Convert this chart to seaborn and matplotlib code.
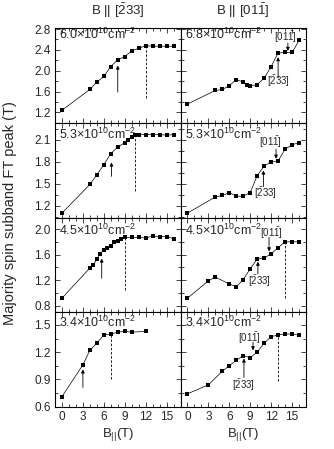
import matplotlib
matplotlib.use("Agg")
import matplotlib.pyplot as plt
from matplotlib.ticker import MultipleLocator
import seaborn as sns
import pandas as pd

# ---------------- data ----------------
dens_labels = [r"6.0$\times$10$^{10}$cm$^{-2}$", r"5.3$\times$10$^{10}$cm$^{-2}$",
               r"4.5$\times$10$^{10}$cm$^{-2}$", r"3.4$\times$10$^{10}$cm$^{-2}$"]
dens_labels_right = [r"6.8$\times$10$^{10}$cm$^{-2}$", r"5.3$\times$10$^{10}$cm$^{-2}$",
                     r"4.5$\times$10$^{10}$cm$^{-2}$", r"3.4$\times$10$^{10}$cm$^{-2}$"]

l1_x = [0, 4, 5, 6, 7, 8, 9, 10, 11, 12, 13, 14, 15, 16]
l1_y = [1.24, 1.64, 1.78, 1.89, 2.08, 2.21, 2.27, 2.38, 2.43, 2.48, 2.47, 2.47, 2.47, 2.47]
r1_x = [0, 4, 5, 6, 7, 8, 8.5, 9, 10, 11, 12, 13, 14, 15, 16]
r1_y = [1.36, 1.62, 1.64, 1.71, 1.83, 1.78, 1.72, 1.71, 1.73, 1.86, 2.08, 2.34, 2.35, 2.35, 2.58]

l2_x = [0, 4, 5, 6, 7, 8, 9, 9.5, 10, 10.5, 11, 12, 13, 14, 15, 16]
l2_y = [1.10, 1.49, 1.62, 1.76, 1.91, 2.00, 2.06, 2.10, 2.14, 2.16, 2.17, 2.17, 2.17, 2.17, 2.16, 2.17]
r2_x = [0, 4, 5, 6, 7, 8, 9, 10, 11, 12, 13, 14, 15, 16]
r2_y = [1.10, 1.32, 1.34, 1.38, 1.33, 1.33, 1.38, 1.61, 1.74, 1.80, 1.81, 1.97, 2.03, 2.06]

l3_x = [0, 4, 4.5, 5, 5.5, 6, 6.5, 7, 7.5, 8, 8.5, 9, 10, 11, 12, 13, 14, 15, 16]
l3_y = [0.92, 1.39, 1.44, 1.53, 1.61, 1.68, 1.71, 1.74, 1.79, 1.82, 1.85, 1.87, 1.87, 1.87,
        1.86, 1.89, 1.88, 1.88, 1.85]
r3_x = [0, 3, 4, 6, 7, 8, 9, 10, 11, 12, 13, 14, 15, 16]
r3_y = [0.92, 1.19, 1.25, 1.14, 1.10, 1.21, 1.38, 1.53, 1.55, 1.61, 1.71, 1.80, 1.80, 1.80]

l4_x = [0, 3, 4, 5, 6, 7, 8, 9, 10, 12]
l4_y = [0.71, 1.06, 1.22, 1.30, 1.39, 1.40, 1.42, 1.43, 1.42, 1.43]
r4_x = [0, 3, 5, 6, 7, 8, 9, 10, 11, 12, 13, 14, 15, 16]
r4_y = [0.74, 0.84, 0.99, 1.05, 1.11, 1.16, 1.14, 1.20, 1.30, 1.37, 1.39, 1.40, 1.40, 1.39]

row_ylims = [(1.0, 2.82), (1.04, 2.33), (0.70, 2.18), (0.595, 1.64)]
row_yticks = [[1.2, 1.6, 2.0, 2.4, 2.8], [1.2, 1.5, 1.8, 2.1],
              [0.8, 1.2, 1.6, 2.0], [0.6, 0.9, 1.2, 1.5]]
row_yminor = [0.2, 0.15, 0.2, 0.15]
xticks = [0, 3, 6, 9, 12, 15]

# arrows (x, tail y, tip y) for plain arrows in left panels
left_arrows = [(8, 1.59, 2.10), (7.1, 1.60, 1.79), (5.7, 1.23, 1.54), (3, 0.81, 1.01)]
# dashed verticals (x, y0, y1): left then right
left_dash = [(12, 1.48, 2.48), (10.5, 1.40, 2.16), (9, 1.04, 1.87), (7, 0.90, 1.40)]
right_dash = [None, None, (14, 0.93, 1.80), (13, 0.88, 1.39)]
# right-panel labelled arrows: (label, label x, label y, arrow x, tail y, tip y)
lab233 = r"[$\bar{2}$33]"
lab011 = r"[01$\bar{1}$]"
right_ann = [
    [(lab233, 13.1, 1.80, 13.0, 1.86, 2.26), (lab011, 14.1, 2.65, 14.4, 2.53, 2.38)],
    [(lab233, 11.2, 1.37, 10.9, 1.46, 1.68), (lab011, 11.9, 2.07, 12.7, 1.97, 1.84)],
    [(lab233, 10.4, 1.19, 10.1, 1.30, 1.49), (lab011, 12.0, 1.93, 11.7, 1.87, 1.65)],
    [(lab233, 8.0, 0.84, 8.1, 0.92, 1.13), (lab011, 8.9, 1.36, 9.4, 1.31, 1.22)],
]
dens_y = [0.885, 0.83, 0.82, 0.84]

# ---------------- style ----------------
sns.set_style("ticks")
plt.rcParams["font.family"] = ["Liberation Sans", "DejaVu Sans"]
plt.rcParams["mathtext.fontset"] = "custom"
plt.rcParams["mathtext.rm"] = "Liberation Sans"
plt.rcParams["mathtext.it"] = "Liberation Sans:italic"
plt.rcParams["mathtext.bf"] = "Liberation Sans:bold"
plt.rcParams["axes.linewidth"] = 0.8

fig, axes = plt.subplots(4, 2, figsize=(3.34, 4.49), dpi=100)
fig.subplots_adjust(left=55/334, right=306/334, top=1-28/449, bottom=1-407/449,
                    hspace=0, wspace=0)

left_data = [(l1_x, l1_y), (l2_x, l2_y), (l3_x, l3_y), (l4_x, l4_y)]
right_data = [(r1_x, r1_y), (r2_x, r2_y), (r3_x, r3_y), (r4_x, r4_y)]

def style_ax(ax, r, show_ylabels, show_xlabels):
    ax.set_xlim(-1, 17)
    ax.set_ylim(*row_ylims[r])
    ax.set_xticks(xticks)
    ax.set_yticks(row_yticks[r])
    ax.xaxis.set_minor_locator(MultipleLocator(1))
    ax.yaxis.set_minor_locator(MultipleLocator(row_yminor[r]))
    ax.tick_params(which="both", direction="in", top=True, right=True,
                   bottom=True, left=True, width=0.6, labelsize=8.5, pad=3)
    ax.tick_params(which="major", length=3.5)
    ax.tick_params(which="minor", length=2)
    if not show_ylabels:
        ax.set_yticklabels([])
    else:
        ax.set_yticklabels([f"{v:.1f}" for v in row_yticks[r]])
    if not show_xlabels:
        ax.set_xticklabels([])
    for s in ax.spines.values():
        s.set_color("black")
    ax.set_xlabel("")
    ax.set_ylabel("")

arrow_kw = dict(arrowstyle="-|>", color="black", lw=0.6, mutation_scale=5,
                shrinkA=0, shrinkB=0)

for r in range(4):
    axl, axr = axes[r, 0], axes[r, 1]
    for ax, (xs, ys) in ((axl, left_data[r]), (axr, right_data[r])):
        df = pd.DataFrame({"B": xs, "peak": ys})
        sns.lineplot(data=df, x="B", y="peak", ax=ax, color="black", lw=0.5,
                     marker="s", markersize=3, markeredgewidth=0, sort=False)
    style_ax(axl, r, True, r == 3)
    style_ax(axr, r, False, r == 3)
    axl.text(0.035, dens_y[r], dens_labels[r], transform=axl.transAxes,
             fontsize=9, ha="left", va="baseline")
    axr.text(0.035, dens_y[r], dens_labels_right[r], transform=axr.transAxes,
             fontsize=9, ha="left", va="baseline")
    ax_x, y0, y1 = left_arrows[r]
    axl.annotate("", xy=(ax_x, y1), xytext=(ax_x, y0), arrowprops=arrow_kw)
    dx, d0, d1 = left_dash[r]
    axl.plot([dx, dx], [d0, d1], color="black", lw=0.6, ls=(0, (3, 2)))
    if right_dash[r] is not None:
        dx, d0, d1 = right_dash[r]
        axr.plot([dx, dx], [d0, d1], color="black", lw=0.6, ls=(0, (3, 2)))
    for lab, lx, ly, axx, t0, t1 in right_ann[r]:
        axr.text(lx, ly, lab, fontsize=7, ha="center", va="center")
        axr.annotate("", xy=(axx, t1), xytext=(axx, t0), arrowprops=arrow_kw)

axes[0, 0].set_title(r"B || [$\bar{2}$33]", fontsize=9.5, pad=9)
axes[0, 1].set_title(r"B || [01$\bar{1}$]", fontsize=9.5, pad=9)
axes[3, 0].set_xlabel(r"B$_{||}$(T)", fontsize=9.5, labelpad=2)
axes[3, 1].set_xlabel(r"B$_{||}$(T)", fontsize=9.5, labelpad=2)
fig.text(0.03, (1 - 213.5/449), "Majority spin subband FT peak (T)",
         rotation=90, fontsize=10.5, ha="center", va="center")

fig.savefig("out.png", dpi=100)
